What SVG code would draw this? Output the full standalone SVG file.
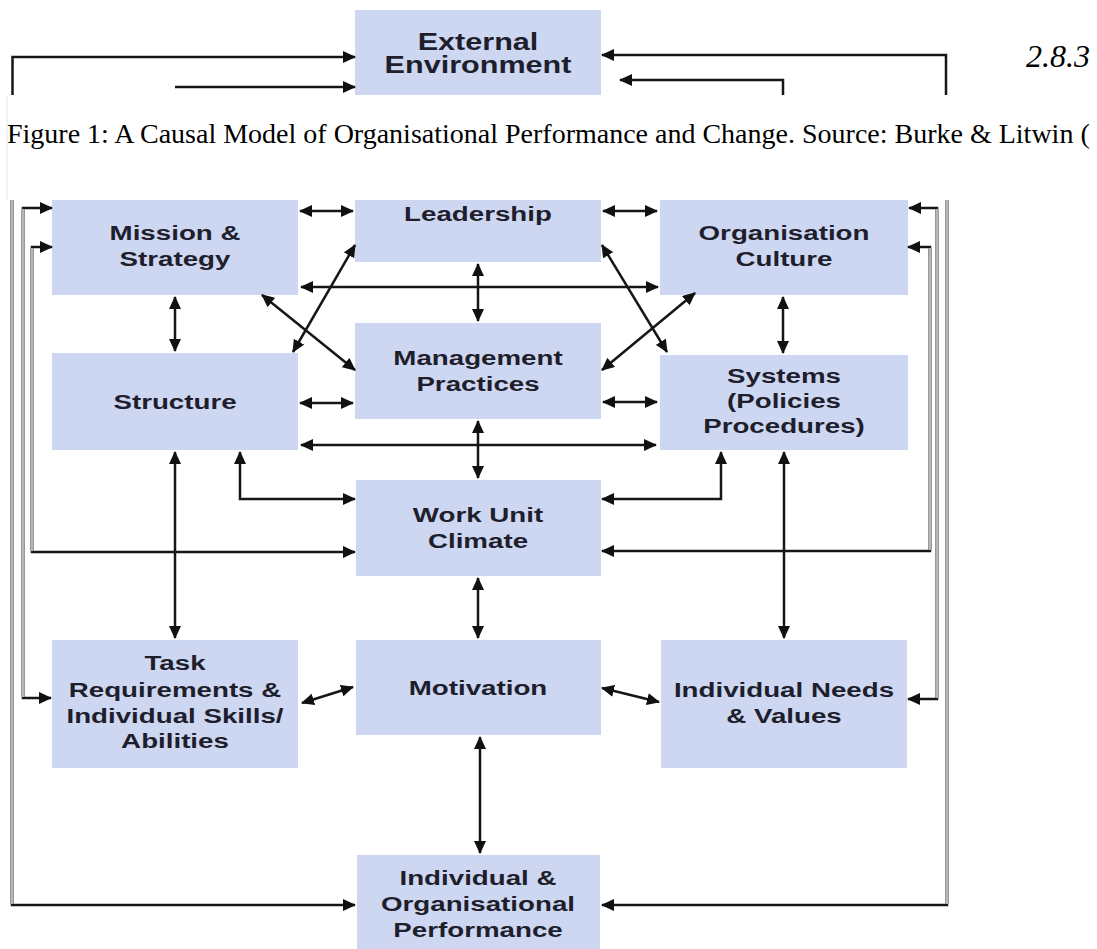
<svg xmlns="http://www.w3.org/2000/svg" width="1097" height="949" viewBox="0 0 1097 949">
  <style>
    .box { fill: #cdd7f1; }
    .lbl { font-family: "Liberation Sans", Arial, sans-serif; font-weight: bold; font-size: 21px; fill: #1e1e2c; text-anchor: middle; }
    .ext { font-size: 23px; }
    .ln { fill: none; stroke: #161616; stroke-width: 2.5; }
    .bi { fill: none; stroke: #161616; stroke-width: 2.5; marker-start: url(#ah); marker-end: url(#ah); }
    .one { fill: none; stroke: #161616; stroke-width: 2.5; marker-end: url(#ah); }
    .rail { fill: none; stroke: #8a8a8a; stroke-width: 3.5; }
    .railc { fill: none; stroke: #d6d6d6; stroke-width: 1.2; }
    .cap { font-family: "Liberation Serif", "Times New Roman", serif; font-size: 28px; fill: #000; }
    .sec { font-family: "Liberation Serif", "Times New Roman", serif; font-style: italic; font-size: 32px; fill: #000; }
  </style>
  <defs>
    <marker id="ah" viewBox="0 0 13 12" refX="12" refY="6" markerWidth="13" markerHeight="12" markerUnits="userSpaceOnUse" orient="auto-start-reverse">
      <path d="M0,0 L13,6 L0,12 z" fill="#111"/>
    </marker>
  </defs>

  <rect width="1097" height="949" fill="#fff"/>

  <!-- upper strip: external environment -->
  <g id="external-environment">
    <rect class="box" x="355" y="10" width="246" height="85"/>
    <g transform="translate(478 0) scale(1.33 1)">
      <text class="lbl ext" x="0" y="50">External</text>
      <text class="lbl ext" x="0" y="73">Environment</text>
    </g>
  </g>
  <g id="external-links">
    <path class="one" d="M12.5,95 L12.5,57 L355,57"/>
    <path class="one" d="M175,87 L355,87"/>
    <path class="one" d="M946,95 L946,55 L602,55"/>
    <path class="one" d="M783,95 L783,80 L620,80"/>
  </g>
  <text class="sec" x="1026" y="67">2.8.3</text>

  <!-- caption band -->
  <line x1="7" y1="95" x2="7" y2="200" stroke="#e8e8e8" stroke-width="1"/>
  <text class="cap" x="7" y="143">Figure 1: A Causal Model of Organisational Performance and Change. Source: Burke &amp; Litwin (</text>

  <!-- nodes -->
  <g id="mission-strategy">
    <rect class="box" x="52" y="200" width="246" height="95"/>
    <g transform="translate(175 0) scale(1.32 1)">
      <text class="lbl" x="0" y="240">Mission &amp;</text>
      <text class="lbl" x="0" y="266">Strategy</text>
    </g>
  </g>
  <g id="leadership">
    <rect class="box" x="355" y="200" width="246" height="62"/>
    <g transform="translate(478 0) scale(1.32 1)">
      <text class="lbl" x="0" y="221">Leadership</text>
    </g>
  </g>
  <g id="organisation-culture">
    <rect class="box" x="660" y="200" width="248" height="95"/>
    <g transform="translate(784 0) scale(1.32 1)">
      <text class="lbl" x="0" y="240">Organisation</text>
      <text class="lbl" x="0" y="266">Culture</text>
    </g>
  </g>
  <g id="structure">
    <rect class="box" x="52" y="353" width="246" height="97"/>
    <g transform="translate(175 0) scale(1.32 1)">
      <text class="lbl" x="0" y="409">Structure</text>
    </g>
  </g>
  <g id="management-practices">
    <rect class="box" x="355" y="323" width="246" height="96"/>
    <g transform="translate(478 0) scale(1.32 1)">
      <text class="lbl" x="0" y="365">Management</text>
      <text class="lbl" x="0" y="391">Practices</text>
    </g>
  </g>
  <g id="systems">
    <rect class="box" x="660" y="355" width="248" height="95"/>
    <g transform="translate(784 0) scale(1.32 1)">
      <text class="lbl" x="0" y="383">Systems</text>
      <text class="lbl" x="0" y="408">(Policies</text>
      <text class="lbl" x="0" y="433">Procedures)</text>
    </g>
  </g>
  <g id="work-unit-climate">
    <rect class="box" x="356" y="480" width="245" height="96"/>
    <g transform="translate(478 0) scale(1.32 1)">
      <text class="lbl" x="0" y="522">Work Unit</text>
      <text class="lbl" x="0" y="548">Climate</text>
    </g>
  </g>
  <g id="task-requirements">
    <rect class="box" x="52" y="640" width="246" height="128"/>
    <g transform="translate(175 0) scale(1.32 1)">
      <text class="lbl" x="0" y="670">Task</text>
      <text class="lbl" x="0" y="697">Requirements &amp;</text>
      <text class="lbl" x="0" y="723">Individual Skills/</text>
      <text class="lbl" x="0" y="748">Abilities</text>
    </g>
  </g>
  <g id="motivation">
    <rect class="box" x="356" y="640" width="245" height="95"/>
    <g transform="translate(478 0) scale(1.32 1)">
      <text class="lbl" x="0" y="695">Motivation</text>
    </g>
  </g>
  <g id="individual-needs">
    <rect class="box" x="661" y="640" width="246" height="128"/>
    <g transform="translate(784 0) scale(1.32 1)">
      <text class="lbl" x="0" y="697">Individual Needs</text>
      <text class="lbl" x="0" y="723">&amp; Values</text>
    </g>
  </g>
  <g id="performance">
    <rect class="box" x="357" y="855" width="243" height="94"/>
    <g transform="translate(478 0) scale(1.32 1)">
      <text class="lbl" x="0" y="885">Individual &amp;</text>
      <text class="lbl" x="0" y="911">Organisational</text>
      <text class="lbl" x="0" y="937">Performance</text>
    </g>
  </g>

  <!-- connectors -->
  <g id="connectors">
    <!-- feedback rails, left -->
    <path class="bi" d="M52,247 L32,247 L32,552 L355,552"/>
    <path class="bi" d="M52,208 L23,208 L23,698 L51,698"/>
    <path class="one" d="M12,200 L12,905 L355,905"/>
    <!-- feedback rails, right -->
    <path class="bi" d="M908,247 L930,247 L930,551 L602,551"/>
    <path class="bi" d="M909,208 L937,208 L937,699 L908,699"/>
    <path class="one" d="M947,200 L947,905 L602,905"/>
    <!-- rail shading -->
    <g>
      <line class="rail" x1="12" y1="200" x2="12" y2="904"/>
      <line class="railc" x1="12" y1="200" x2="12" y2="904"/>
      <line class="rail" x1="947" y1="200" x2="947" y2="904"/>
      <line class="railc" x1="947" y1="200" x2="947" y2="904"/>
      <line class="rail" x1="23" y1="209" x2="23" y2="697" stroke-width="3"/>
      <line class="railc" x1="23" y1="209" x2="23" y2="697" stroke-width="0.9"/>
      <line class="rail" x1="32" y1="248" x2="32" y2="551" stroke-width="3"/>
      <line class="railc" x1="32" y1="248" x2="32" y2="551" stroke-width="0.9"/>
      <line class="rail" x1="930" y1="248" x2="930" y2="550" stroke-width="3"/>
      <line class="railc" x1="930" y1="248" x2="930" y2="550" stroke-width="0.9"/>
      <line class="rail" x1="937" y1="209" x2="937" y2="698" stroke-width="3"/>
      <line class="railc" x1="937" y1="209" x2="937" y2="698" stroke-width="0.9"/>
    </g>

    <!-- horizontal pairs -->
    <path class="bi" d="M300,211 L353,211"/>
    <path class="bi" d="M603,211 L657,211"/>
    <path class="bi" d="M300,403 L353,403"/>
    <path class="bi" d="M603,402 L657,402"/>
    <path class="bi" d="M301,287 L658,287"/>
    <path class="bi" d="M301,445 L656,445"/>

    <!-- vertical pairs -->
    <path class="bi" d="M175,297 L175,351"/>
    <path class="bi" d="M478,264 L478,321"/>
    <path class="bi" d="M783,297 L783,353"/>
    <path class="bi" d="M175,452 L175,638"/>
    <path class="bi" d="M478,421 L478,478"/>
    <path class="bi" d="M784,452 L784,638"/>
    <path class="bi" d="M478,578 L478,638"/>
    <path class="bi" d="M480,737 L480,853"/>

    <!-- diagonals -->
    <path class="bi" d="M293,352 L355,245"/>
    <path class="bi" d="M262,295 L355,370"/>
    <path class="bi" d="M602,245 L667,352"/>
    <path class="bi" d="M695,293 L602,370"/>
    <path class="bi" d="M302,703 L353,687"/>
    <path class="bi" d="M602,688 L659,702"/>

    <!-- elbows into work unit climate -->
    <path class="bi" d="M240,452 L240,499 L355,499"/>
    <path class="bi" d="M721,452 L721,499 L602,499"/>
  </g>
</svg>
